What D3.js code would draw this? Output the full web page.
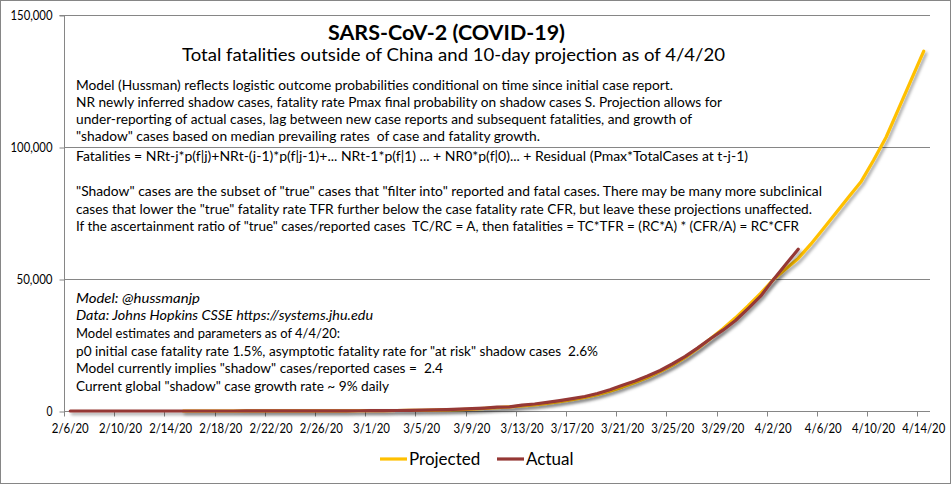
<!DOCTYPE html>
<html><head><meta charset="utf-8">
<script src="https://cdn.jsdelivr.net/npm/d3@7"></script>
<style>
html,body{margin:0;padding:0;background:#fff;}
svg{display:block;font-family:Lato,"Open Sans",sans-serif;}
</style></head>
<body>
<svg id="chart" width="951" height="484"></svg>
<script>
const dates = ["2/6/20","2/7/20","2/8/20","2/9/20","2/10/20","2/11/20","2/12/20","2/13/20","2/14/20","2/15/20","2/16/20","2/17/20","2/18/20","2/19/20","2/20/20","2/21/20","2/22/20","2/23/20","2/24/20","2/25/20","2/26/20","2/27/20","2/28/20","2/29/20",
"3/1/20","3/2/20","3/3/20","3/4/20","3/5/20","3/6/20","3/7/20","3/8/20","3/9/20","3/10/20","3/11/20","3/12/20","3/13/20","3/14/20","3/15/20","3/16/20","3/17/20","3/18/20","3/19/20","3/20/20","3/21/20","3/22/20","3/23/20","3/24/20","3/25/20","3/26/20","3/27/20","3/28/20","3/29/20","3/30/20","3/31/20",
"4/1/20","4/2/20","4/3/20","4/4/20","4/5/20","4/6/20","4/7/20","4/8/20","4/9/20","4/10/20","4/11/20","4/12/20","4/13/20","4/14/20"];

const actual = [2,2,2,2,2,2,3,3,3,4,5,5,5,8,11,13,17,23,33,43,55,67,85,104,
126,150,180,240,333,420,510,680,870,1122,1450,1550,2220,2640,3241,3910,4680,5500,6620,8050,9715,11390,13240,15350,17900,20680,23900,27350,30620,34274,38790,
43490,49660,55460,61280];

const projected = [null,null,null,null,null,null,null,null,null,
4,5,6,7,9,11,14,18,23,30,38,48,61,77,97,
122,152,190,236,292,362,448,552,680,1000,1250,1550,1900,2350,2900,3550,4300,5150,6200,7500,9050,10800,12700,14900,17400,20300,23700,27400,31200,35300,39800,
44600,49700,53800,57800,63200,69000,75000,81000,86800,95000,103700,114500,125400,136300];

const yTicks = [0,50000,100000,150000];
const seriesNames = ["Projected","Actual"];
const seriesColors = ["#FFC000","#953735"];

const title = "SARS-CoV-2 (COVID-19)";
const subtitle = "Total fatalities outside of China and 10-day projection as of 4/4/20";

const noteLines = [
 "Model (Hussman) reflects logistic outcome probabilities conditional on time since initial case report.",
 "NR newly inferred shadow cases, fatality rate Pmax final probability on shadow cases S. Projection allows for",
 "under-reporting of actual cases, lag between new case reports and subsequent fatalities, and growth of",
 "\"shadow\" cases based on median prevailing rates  of case and fatality growth.",
 "Fatalities = NRt-j*p(f|j)+NRt-(j-1)*p(f|j-1)+... NRt-1*p(f|1) ... + NR0*p(f|0)... + Residual (Pmax*TotalCases at t-j-1)",
 "\"Shadow\" cases are the subset of \"true\" cases that \"filter into\" reported and fatal cases. There may be many more subclinical",
 "cases that lower the \"true\" fatality rate TFR further below the case fatality rate CFR, but leave these projections unaffected.",
 "If the ascertainment ratio of \"true\" cases/reported cases  TC/RC = A, then fatalities = TC*TFR = (RC*A) * (CFR/A) = RC*CFR",
 "Model: @hussmanjp",
 "Data: Johns Hopkins CSSE https://systems.jhu.edu",
 "Model estimates and parameters as of 4/4/20:",
 "p0 initial case fatality rate 1.5%, asymptotic fatality rate for \"at risk\" shadow cases  2.6%",
 "Model currently implies \"shadow\" cases/reported cases =  2.4",
 "Current global \"shadow\" case growth rate ~ 9% daily"
];
// layout for note lines: [baseline y, right-edge x, italic]
const noteLayout = [
 [90,673,0],[107,722,0],[124,692,0],[141,540,0],[161,748,0],
 [196,822,0],[214,812,0],[231,799,0],
 [303,200,1],[320,373,1],[338,340,0],[356,598,0],[373,443,0],[391,389,0]
];

const svg = d3.select("#chart");
const W = 951, H = 484;
const pLeft = 64, pRight = 930, pTop = 15, pBottom = 411;

svg.append("rect").attr("x",0.5).attr("y",0.5).attr("width",W-1).attr("height",H-1)
  .attr("fill","#fff").attr("stroke","#868686").attr("stroke-width",1);

const defs = svg.append("defs");
const f = defs.append("filter").attr("id","shadow").attr("x","-10%").attr("y","-10%").attr("width","130%").attr("height","130%");
f.append("feDropShadow").attr("dx",2).attr("dy",2.5).attr("stdDeviation",1.4)
 .attr("flood-color","#000").attr("flood-opacity",0.35);

const x = d3.scaleBand().domain(dates).range([pLeft,pRight]).padding(0);
const y = d3.scaleLinear().domain([0,150000]).range([pBottom,pTop]);
const cx = d => x(d) + x.bandwidth()/2;

// gridlines
svg.append("g").selectAll("line").data(yTicks.filter(v=>v>0)).join("line")
  .attr("x1",pLeft).attr("x2",pRight)
  .attr("y1",d=>Math.round(y(d))+0.5).attr("y2",d=>Math.round(y(d))+0.5)
  .attr("stroke","#868686").attr("stroke-width",1);

// y axis
const yAxis = d3.axisLeft(y).tickValues(yTicks).tickFormat(d3.format(",")).tickSize(5).tickPadding(7);
const gy = svg.append("g").attr("transform",`translate(${pLeft+0.5},0.5)`).call(yAxis);
gy.select(".domain").attr("stroke","#868686").attr("d",`M-5,${pTop}H0V${pBottom}`);
gy.selectAll(".tick line").attr("stroke","#868686");
gy.selectAll("text").attr("font-family","Lato, sans-serif").attr("font-size",12.5).attr("fill","#000")
  .each(function(d){ const s=d3.format(",")(d); d3.select(this).attr("textLength",s.length*6).attr("lengthAdjust","spacingAndGlyphs"); });

// x axis
const tickIdx = d3.range(0,dates.length,4);
const gx = svg.append("g").attr("transform",`translate(0,${pBottom+0.5})`);
gx.append("line").attr("x1",pLeft).attr("x2",pRight).attr("y1",0).attr("y2",0).attr("stroke","#868686");
gx.selectAll("line.tk").data(tickIdx).join("line").attr("class","tk")
  .attr("x1",i=>Math.round(x(dates[i]))+0.5).attr("x2",i=>Math.round(x(dates[i]))+0.5)
  .attr("y1",0).attr("y2",5).attr("stroke","#868686");
gx.selectAll("text").data(tickIdx).join("text")
  .attr("x",i=>cx(dates[i])).attr("y",21).attr("text-anchor","middle")
  .attr("font-size",12.5).attr("fill","#000")
  .attr("textLength",i=>dates[i].length*6.15).attr("lengthAdjust","spacingAndGlyphs")
  .text(i=>dates[i]);

// title
svg.append("text").attr("x",446.5).attr("y",40).attr("text-anchor","middle")
  .attr("font-size",20).attr("font-weight","bold").attr("fill","#000")
  .attr("textLength",237).attr("lengthAdjust","spacingAndGlyphs").text(title);
svg.append("text").attr("x",453.5).attr("y",61).attr("text-anchor","middle")
  .attr("font-size",18).attr("fill","#000").attr("textLength",543).attr("lengthAdjust","spacingAndGlyphs").text(subtitle);

// notes
const ng = svg.append("g");
noteLines.forEach((t,i)=>{
  const [ty,rx,it] = noteLayout[i];
  ng.append("text").attr("x",76).attr("y",ty).attr("font-size",13.5)
    .attr("font-style",it?"italic":"normal").attr("fill","#000")
    .attr("textLength",rx-76).attr("lengthAdjust","spacingAndGlyphs")
    .style("white-space","pre").text(t);
});

// lines
const line = d3.line().defined(d=>d[1]!=null).x(d=>cx(d[0])).y(d=>y(d[1])).curve(d3.curveLinear);
const series = [projected, actual];
series.forEach((vals,k)=>{
  svg.append("path").datum(vals.map((v,i)=>[dates[i],v]))
    .attr("d",line).attr("fill","none").attr("stroke",seriesColors[k])
    .attr("stroke-width",3.2).attr("stroke-linejoin","round").attr("stroke-linecap","round")
    .attr("filter","url(#shadow)");
});

// legend
const legX = [380,497];
const lg = svg.append("g");
seriesNames.forEach((n,k)=>{
  lg.append("line").attr("x1",legX[k]).attr("x2",legX[k]+27).attr("y1",459).attr("y2",459)
    .attr("stroke",seriesColors[k]).attr("stroke-width",3.2);
  lg.append("text").attr("x",legX[k]+29).attr("y",465).attr("font-size",17).attr("fill","#000").text(n);
});
</script>
</body></html>
